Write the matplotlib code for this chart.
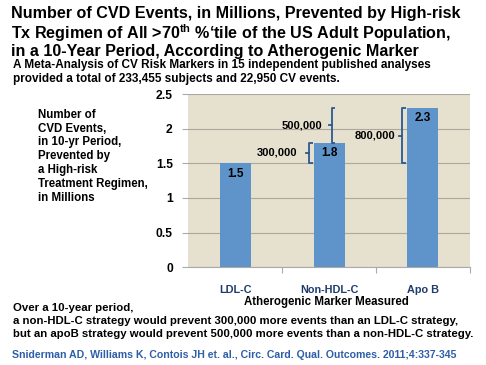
import matplotlib
matplotlib.use("Agg")
import matplotlib.pyplot as plt

# data
markers = ["LDL-C", "Non-HDL-C", "Apo B"]
events = [1.5, 1.8, 2.3]          # millions of CVD events prevented
bar_labels = ["1.5", "1.8", "2.3"]
yticks = [0, 0.5, 1, 1.5, 2, 2.5]
ytick_labels = ["0", "0.5", "1", "1.5", "2", "2.5"]
# brackets: (from value, to value, label)
brackets = [(1.5, 1.8, "300,000"), (1.8, 2.3, "500,000"), (1.5, 2.3, "800,000")]

title_lines = [
    "Number of CVD Events, in Millions, Prevented by High-risk",
    "Tx Regimen of All >70$^{\\mathrm{th}}$ %\u2018tile of the US Adult Population,",
    "in a 10-Year Period, According to Atherogenic Marker",
]
subtitle_lines = [
    "A Meta-Analysis of CV Risk Markers in 15 independent published analyses",
    "provided a total of 233,455 subjects and 22,950 CV events.",
]
note_lines = [
    "Over a 10-year period,",
    "a non-HDL-C strategy would prevent 300,000 more events than an LDL-C strategy,",
    "but an apoB strategy would prevent 500,000 more events than a non-HDL-C strategy.",
]

plt.rcParams["font.family"] = ["Liberation Sans", "DejaVu Sans"]
plt.rcParams["mathtext.fontset"] = "custom"
plt.rcParams["mathtext.rm"] = "Liberation Sans:bold"

bg = "#e6e0cf"
bar_color = "#5f94cb"
navy = "#2a5a8f"
tick_blue = "#1f3c6e"

fig = plt.figure(figsize=(4.86, 3.65), dpi=100, facecolor="white")
ax = fig.add_axes([0.387, 0.268, 0.58, 0.474])
ax.set_facecolor(bg)

x = list(range(len(markers)))
ax.bar(x, events, width=0.33, color=bar_color, zorder=3)
for xi, v, lab in zip(x, events, bar_labels):
    ax.text(xi, v - 0.06, lab, ha="center", va="top", fontsize=8.5,
            fontweight="bold", color="black", zorder=4)

ax.set_xlim(-0.5, 2.5)
ax.set_ylim(0, 2.5)
ax.set_yticks(yticks)
ax.set_yticklabels(ytick_labels, fontsize=8.7, fontweight="bold")
ax.set_xticks([0.5, 1.5, 2.5])
ax.set_xticks(x, minor=True)
ax.set_xticklabels([])
ax.set_xticklabels(markers, minor=True, fontsize=7.8, fontweight="bold",
                   color=tick_blue)
ax.tick_params(axis="x", which="major", length=4, color="#aaaaaa")
ax.tick_params(axis="x", which="minor", length=0, pad=13)
ax.tick_params(axis="y", length=4, color="#aaaaaa", pad=7)
ax.grid(axis="y", color="#aca89c", linewidth=0.8, zorder=0)
for s in ["top", "right", "left"]:
    ax.spines[s].set_visible(False)
ax.spines["bottom"].set_color("#aaaaaa")

# curly brackets
bx = [0.79, 1.03, 1.78]
lx = [0.66, 0.93, 1.71]
for (lo, hi, lab), xb, xl in zip(brackets, bx, lx):
    hook = 0.035
    mid = (lo + hi) / 2
    ax.plot([xb + hook, xb, xb, xb + hook], [hi, hi, lo, lo], color=navy,
            lw=1.3, zorder=5, solid_capstyle="butt")
    ax.plot([xb - hook, xb], [mid, mid], color=navy, lw=1.3, zorder=5)
    ax.text(xl, mid, lab, ha="right", va="center", fontsize=8,
            fontweight="bold", zorder=5)

fig.text(0.672, 0.173, "Atherogenic Marker Measured", ha="center",
         va="center", fontsize=8.3, fontweight="bold")

# title and notes
for yy, line in zip([0.962, 0.910, 0.858], title_lines):
    fig.text(0.022, yy, line, ha="left", va="center", fontsize=11.6,
             fontweight="bold")
for yy, line in zip([0.822, 0.784], subtitle_lines):
    fig.text(0.027, yy, line, ha="left", va="center", fontsize=8.5,
             fontweight="bold")
fig.text(0.078, 0.702,
         "Number of\nCVD Events,\nin 10-yr Period,\nPrevented by\na High-risk\n"
         "Treatment Regimen,\nin Millions",
         ha="left", va="top", fontsize=8.3, fontweight="bold", linespacing=1.2)
for yy, line in zip([0.156, 0.121, 0.085], note_lines):
    fig.text(0.027, yy, line, ha="left", va="center", fontsize=8.2,
             fontweight="bold")
fig.text(0.025, 0.027,
         "Sniderman AD, Williams K, Contois JH et. al., Circ. Card. Qual. Outcomes. 2011;4:337-345",
         ha="left", va="center", fontsize=7.6, fontweight="bold", color="#2f5ea8")

fig.savefig("out.png", dpi=100)
